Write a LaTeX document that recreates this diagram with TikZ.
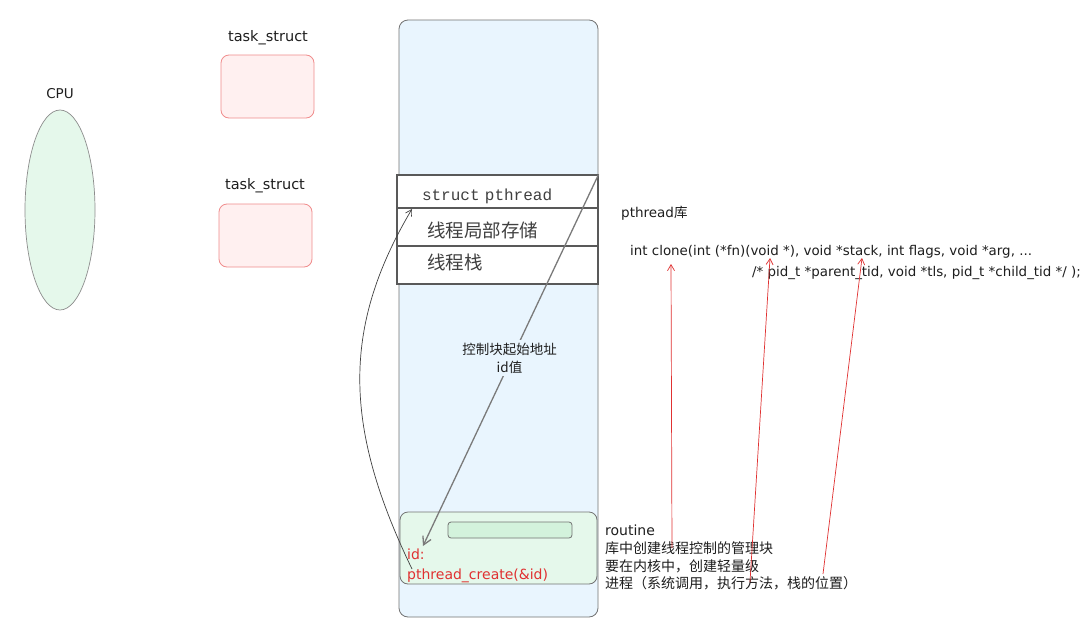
\documentclass[tikz,border=0pt]{standalone}
\usepackage{fontspec}
\setmainfont{DejaVu Sans}
\newfontfamily\cjk{Noto Sans CJK SC}
\newfontfamily\monof{Liberation Mono}
\usetikzlibrary{arrows.meta,shapes.geometric}
\definecolor{bluefill}{HTML}{E9F5FE}
\definecolor{greenfill}{HTML}{E5F8EB}
\definecolor{greeninner}{HTML}{D3F2DC}
\definecolor{pinkfill}{HTML}{FFF0F0}
\definecolor{exred}{HTML}{E03131}
\definecolor{pinkline}{HTML}{F08C8C}
\definecolor{greyline}{HTML}{7A7A7A}
\definecolor{ink}{HTML}{1E1E1E}
\begin{document}
\begin{tikzpicture}[x=1pt,y=-1pt,
  txt/.style={text=ink, inner sep=0pt},
  taskbox/.style={draw=pinkline, fill=pinkfill, rounded corners=8pt, line width=0.8pt, minimum width=93pt, minimum height=63pt},
  rowbox/.style={draw=black!65, fill=white, line width=1.1pt, minimum width=201pt, text width=151pt, inner xsep=25pt, align=left, inner ysep=0pt, text=black!75},
  redarrow/.style={draw=exred, line width=0.7pt, -{Straight Barb[length=6pt,width=7pt]}},
]
\useasboundingbox (0,0) rectangle (1085,632);
\fill[white] (0,0) rectangle (1085,632);

% CPU
\node[ellipse, draw=black!45, fill=greenfill, line width=0.7pt, minimum width=70pt, minimum height=200pt] (cpu) at (60,210) {};
\node[txt, font=\fontsize{13.5}{14}\selectfont] (cpul) at (60,94) {CPU};

% task_struct boxes
\node[txt, font=\fontsize{14.5}{16}\selectfont] (t1l) at (268,38) {task\_struct};
\node[taskbox] (t1) at (267.5,86.5) {};
\node[txt, font=\fontsize{14.5}{16}\selectfont] (t2l) at (265,186) {task\_struct};
\node[taskbox] (t2) at (265.5,235.5) {};

% big memory column
\node[draw=black!55, fill=bluefill, rounded corners=9pt, line width=0.8pt, minimum width=199pt, minimum height=597pt] (mem) at (498.5,318.5) {};

% struct pthread rows
\node[rowbox, minimum height=33pt, text height=17pt, text depth=0pt, font=\monof\fontsize{16}{16}\selectfont] (sp) at (497.5,191.5) {struct pthread};
\node[rowbox, minimum height=38pt, inner xsep=30pt, text width=141pt, text height=20pt, text depth=0pt, font=\cjk\fontsize{18.5}{19}\selectfont] (tls) at (497.5,227) {线程局部存储};
\node[rowbox, minimum height=38pt, inner xsep=30pt, text width=141pt, text height=8pt, text depth=0pt, font=\cjk\fontsize{18.5}{19}\selectfont] (stk) at (497.5,265) {线程栈};

% green box at bottom
\node[draw=black!55, fill=greenfill, rounded corners=8pt, line width=0.8pt, minimum width=197pt, minimum height=72pt] (gb) at (498.5,548) {};
\node[draw=black!55, fill=greeninner, rounded corners=3pt, line width=0.8pt, minimum width=124pt, minimum height=16pt] (gin) at (510,530) {};
\node[txt, anchor=west, align=left, text=exred, font=\fontsize{14}{20}\selectfont] (code) at (407,566) {id:\\pthread\_create(\&id)};

% label texts on the right
\node[txt, anchor=west, font=\fontsize{13.5}{14}\selectfont] (plib) at (621,213) {pthread{\cjk 库}};
\node[txt, anchor=west, font=\fontsize{13.4}{14}\selectfont] (clone1) at (630,252) {int clone(int (*fn)(void *), void *stack, int flags, void *arg, ...};
\node[txt, anchor=west, font=\fontsize{13.4}{14}\selectfont] (clone2) at (752,273) {/* pid\_t *parent\_tid, void *tls, pid\_t *child\_tid */ );};
\node[txt, anchor=north west, align=left, font=\fontsize{14}{17.7}\selectfont] (rout) at (605,525) {routine\\{\cjk 库中创建线程控制的管理块}\\{\cjk 要在内核中，创建轻量级}\\{\cjk 进程（系统调用，执行方法，栈的位置）}};

% grey arrow from struct pthread to id
\coordinate (gend) at (423,546);
\draw[draw=greyline, line width=1.3pt, -{Straight Barb[length=8pt,width=9pt]}] (sp.north east) -- (gend);
\node[txt, fill=bluefill, inner sep=3pt, align=center, font=\cjk\fontsize{13.5}{18}\selectfont] (lab) at (509.5,358) {控制块起始地址\\id值};

% black curved arrow from pthread_create to struct pthread
\coordinate (bstart) at (412,569);
\coordinate (bend) at (412,209);
\draw[draw=black!75, line width=0.7pt, -{Straight Barb[length=6pt,width=7pt]}] (bstart) .. controls (345,430) and (340,330) .. (bend);

% red arrows
\coordinate (r1s) at (672,548); \coordinate (r1e) at (671,264);
\coordinate (r2s) at (750,582); \coordinate (r2e) at (770,258);
\coordinate (r3s) at (823,574); \coordinate (r3e) at (862,258);
\draw[redarrow] (r1s) -- (r1e);
\draw[redarrow] (r2s) -- (r2e);
\draw[redarrow] (r3s) -- (r3e);
\end{tikzpicture}
\end{document}
